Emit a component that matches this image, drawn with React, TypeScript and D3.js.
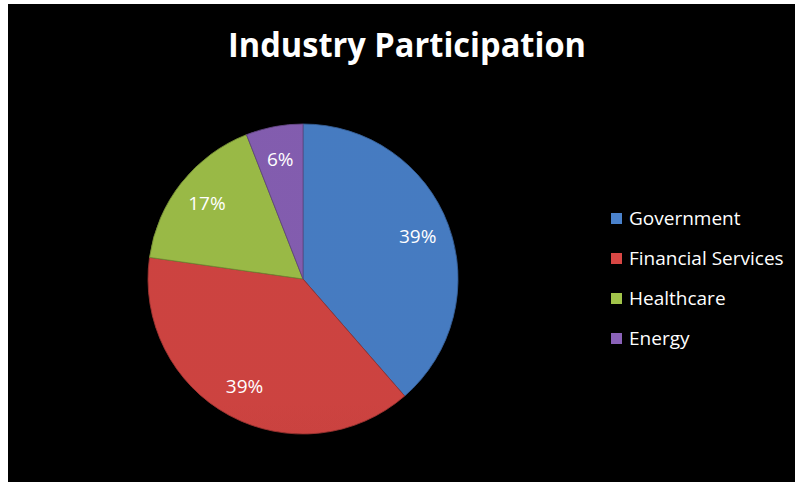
import { useEffect, useRef } from "react";
import * as d3 from "d3";

const categories = ["Government", "Financial Services", "Healthcare", "Energy"];
const values = [39, 39, 17, 6];
const colors = ["#4a82cc", "#d84744", "#a2c44a", "#8a62b8"];

const W = 795;
const H = 482;

const App = () => {
  const ref = useRef<SVGSVGElement>(null);

  useEffect(() => {
    const svg = d3.select(ref.current);
    svg.selectAll("*").remove();

    svg.append("rect").attr("width", W).attr("height", H).attr("fill", "#fff");
    svg.append("rect").attr("x", 8).attr("y", 4).attr("width", W - 8).attr("height", H - 4).attr("fill", "#000");

    // title
    svg.append("text")
      .attr("x", 407)
      .attr("y", 57)
      .attr("text-anchor", "middle")
      .attr("textLength", 358)
      .attr("lengthAdjust", "spacingAndGlyphs")
      .style("font-family", "'Open Sans', sans-serif")
      .style("font-weight", 700)
      .style("font-size", "34px")
      .style("fill", "#fff")
      .text("Industry Participation");

    const cx = 303, cy = 279, r = 155;
    const total = d3.sum(values);
    const pie = d3.pie<number>().sort(null)(values);
    const arc = d3.arc<d3.PieArcDatum<number>>().innerRadius(0).outerRadius(r);
    const labelArc = d3.arc<d3.PieArcDatum<number>>().innerRadius(r * 0.79).outerRadius(r * 0.79);

    const defs = svg.append("defs");
    colors.forEach((c, i) => {
      const g = defs.append("linearGradient")
        .attr("id", "grad" + i)
        .attr("gradientUnits", "userSpaceOnUse")
        .attr("x1", 0).attr("y1", cy - r).attr("x2", 0).attr("y2", cy + r);
      g.append("stop").attr("offset", "0%").attr("stop-color", d3.color(c)!.brighter(0.2).toString());
      g.append("stop").attr("offset", "100%").attr("stop-color", d3.color(c)!.darker(0.12).toString());
    });
    const rim = defs.append("radialGradient")
      .attr("id", "rim")
      .attr("gradientUnits", "userSpaceOnUse")
      .attr("cx", cx).attr("cy", cy).attr("r", r);
    rim.append("stop").attr("offset", "90%").attr("stop-color", "#fff").attr("stop-opacity", 0);
    rim.append("stop").attr("offset", "96%").attr("stop-color", "#fff").attr("stop-opacity", 0.1);
    rim.append("stop").attr("offset", "100%").attr("stop-color", "#000").attr("stop-opacity", 0.12);

    const g = svg.append("g").attr("transform", `translate(${cx},${cy})`);
    g.selectAll("path.slice")
      .data(pie)
      .enter()
      .append("path")
      .attr("class", "slice")
      .attr("d", arc)
      .attr("fill", (d, i) => `url(#grad${i})`)
      .attr("stroke", (d, i) => d3.color(colors[i])!.darker(0.7).toString())
      .attr("stroke-width", 0.8);

    g.append("circle").attr("r", r).attr("fill", "url(#rim)").attr("pointer-events", "none");

    g.selectAll("text.lbl")
      .data(pie)
      .enter()
      .append("text")
      .attr("class", "lbl")
      .attr("transform", (d) => `translate(${labelArc.centroid(d)})`)
      .attr("text-anchor", "middle")
      .attr("dy", "0.36em")
      .style("font-family", "'Open Sans', sans-serif")
      .style("font-size", "19px")
      .style("fill", "#fff")
      .text((d) => Math.round((d.data / total) * 100) + "%");

    // legend
    const y = d3.scalePoint<string>().domain(categories).range([225, 345]);
    const leg = svg.append("g");
    categories.forEach((c, i) => {
      const base = y(c)!;
      leg.append("rect")
        .attr("x", 611).attr("y", base - 12)
        .attr("width", 11).attr("height", 11)
        .attr("fill", colors[i]);
      leg.append("text")
        .attr("x", 629).attr("y", base)
        .style("font-family", "'Open Sans', sans-serif")
        .style("font-size", "19px")
        .style("fill", "#fff")
        .text(c);
    });
  }, []);

  return (
    <svg
      ref={ref}
      width={W}
      height={H}
      style={{ position: "absolute", left: 0, top: 0, display: "block" }}
    />
  );
};

export default App;
